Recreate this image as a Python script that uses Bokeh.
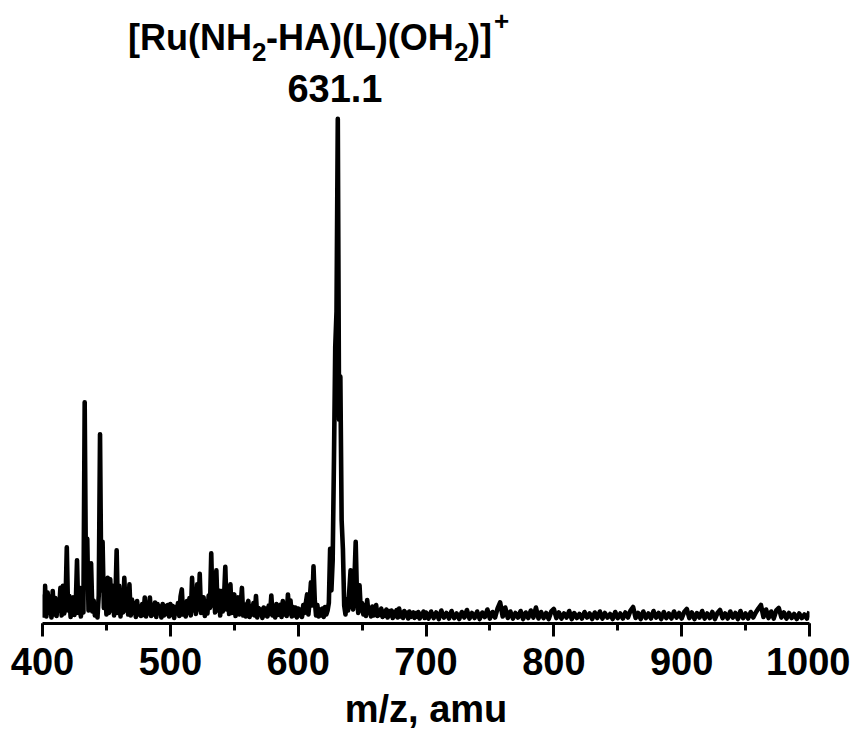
from bokeh.plotting import figure
from bokeh.models import Range1d, SingleIntervalTicker
from bokeh.core.properties import value
from bokeh.embed import file_html
from bokeh.resources import INLINE

# ---------------- data ----------------
# m/z grid, 1 amu steps 400-700, 2 amu steps 702-1000
mz_a = list(range(400, 701))
intensity_a = [
    5.2, 1.0, 6.9, 0.8, 5.6, 1.5, 4.8, 0.6, 5.9, 1.2,      # 400
    4.5, 0.9, 4.2, 2.0, 6.5, 1.0, 6.9, 1.4, 3.5, 14.6,     # 410
    2.0, 4.9, 0.7, 3.8, 4.6, 1.1, 3.0, 12.0, 1.5, 6.5,     # 420
    0.8, 3.3, 1.6, 43.5, 8.0, 16.3, 2.0, 5.5, 11.4, 1.8,   # 430
    4.0, 1.0, 3.3, 0.6, 5.0, 37.1, 6.0, 15.7, 2.5, 8.0,    # 440
    1.2, 8.5, 1.5, 8.2, 2.0, 6.9, 1.0, 4.0, 14.0, 1.5,     # 450
    6.9, 0.8, 5.0, 1.6, 8.5, 2.0, 6.0, 1.2, 7.2, 1.0,      # 460
    4.2, 1.5, 3.5, 0.7, 3.9, 1.2, 2.8, 0.9, 3.3, 1.1,      # 470
    4.6, 0.8, 3.2, 1.4, 4.6, 0.9, 3.0, 1.2, 3.6, 0.7,      # 480
    3.3, 1.5, 2.8, 0.6, 3.3, 1.0, 2.9, 1.3, 3.1, 0.8,      # 490
    3.3, 1.1, 2.9, 0.5, 2.7, 1.4, 3.5, 0.9, 4.8, 6.2,      # 500
    1.2, 3.6, 0.8, 3.9, 1.5, 4.5, 1.0, 8.5, 2.0, 5.5,      # 510
    1.3, 7.2, 2.2, 9.3, 1.5, 4.0, 4.6, 0.9, 3.8, 1.4,      # 520
    5.0, 2.5, 13.4, 3.0, 6.5, 1.6, 10.0, 2.0, 6.0, 1.0,    # 530
    5.9, 1.8, 4.5, 10.7, 2.2, 6.0, 1.3, 7.2, 1.5, 4.2,     # 540
    5.2, 0.9, 3.5, 4.6, 1.2, 3.0, 6.5, 1.0, 3.2, 0.8,      # 550
    3.0, 3.9, 0.7, 2.8, 1.2, 3.5, 1.0, 4.9, 0.6, 2.5,      # 560
    1.2, 2.2, 0.5, 2.6, 1.0, 2.4, 0.8, 3.0, 1.3, 5.0,      # 570
    1.0, 2.8, 0.6, 3.3, 1.1, 2.6, 3.1, 0.7, 3.9, 1.2,      # 580
    3.0, 0.9, 5.2, 1.4, 4.0, 0.8, 2.7, 1.0, 2.6, 0.6,      # 590
    2.4, 1.0, 2.2, 0.7, 3.1, 1.5, 3.5, 5.2, 1.2, 4.0,      # 600
    7.6, 3.0, 10.8, 4.0, 1.0, 3.1, 0.8, 2.2, 1.0, 2.4,     # 610
    0.7, 2.7, 1.2, 2.0, 3.5, 14.3, 6.0, 12.0, 32.0, 54.5,  # 620
    61.6, 100.0, 40.0, 48.6, 20.0, 14.3, 3.0, 1.2, 4.3, 2.0,  # 630
    6.0, 10.0, 3.0, 2.2, 8.0, 15.7, 5.0, 1.5, 7.0, 2.0,    # 640
    3.5, 1.2, 3.0, 0.9, 4.1, 1.5, 2.5, 0.8, 2.8, 1.0,      # 650
    2.2, 3.1, 0.9, 2.0, 1.1, 2.4, 0.7, 1.8, 1.0, 2.2,      # 660
    0.6, 1.9, 1.0, 2.0, 0.5, 1.7, 0.9, 2.1, 0.6, 2.4,      # 670
    0.8, 1.6, 0.5, 1.9, 1.0, 1.5, 0.4, 1.8, 0.7, 1.4,      # 680
    1.6, 0.5, 1.5, 0.8, 1.7, 0.4, 1.3, 0.9, 1.8, 0.5,      # 690
    1.6,                                                   # 700
]
mz_b = list(range(702, 1001, 2))
intensity_b = [
    0.4, 1.8, 0.5, 1.6, 0.3, 2.0, 0.6, 1.5, 0.4, 1.9,      # 702-720
    0.5, 1.4, 0.3, 1.7, 0.6, 2.1, 0.4, 1.5, 0.5, 1.8,      # 722-740
    0.3, 1.6, 0.7, 2.2, 0.4, 1.7, 0.6, 2.4, 3.6, 0.8,      # 742-760
    2.6, 0.5, 1.8, 0.4, 1.5, 0.6, 1.9, 0.3, 1.6, 0.5,      # 762-780
    2.0, 0.6, 2.6, 0.4, 1.7, 0.5, 1.5, 0.3, 1.8, 2.3,      # 782-800
    0.5, 1.6, 0.4, 1.4, 0.6, 1.9, 0.3, 1.5, 0.5, 1.3,      # 802-820
    0.4, 1.7, 0.6, 1.4, 0.3, 1.6, 0.5, 1.8, 0.4, 1.5,      # 822-840
    0.6, 1.3, 0.3, 1.7, 0.5, 1.4, 0.4, 1.6, 0.6, 2.0,      # 842-860
    2.7, 0.5, 1.5, 0.3, 1.8, 0.5, 1.4, 0.4, 1.9, 0.6,      # 862-880
    1.5, 0.3, 1.7, 0.5, 1.4, 0.4, 1.8, 0.6, 1.5, 0.4,      # 882-900
    1.7, 2.3, 0.5, 1.6, 0.3, 1.5, 0.6, 1.9, 0.4, 1.4,      # 902-920
    0.5, 1.7, 0.3, 1.5, 2.1, 0.5, 1.4, 0.4, 1.8, 0.6,      # 922-940
    1.5, 0.3, 1.9, 0.5, 1.4, 0.4, 1.7, 0.6, 1.6, 2.4,      # 942-960
    3.1, 0.7, 2.2, 0.5, 1.8, 0.4, 2.0, 2.5, 0.6, 1.6,      # 962-980
    0.4, 1.5, 0.5, 1.3, 0.3, 1.4, 0.5, 1.2, 0.4, 1.8,      # 982-1000
]
mz = mz_a + mz_b
intensity = intensity_a + intensity_b

x_ticks_interval = 100
x_label = "m/z, amu"
peak_mz = 631.1
peak_label = "631.1"
ion_parts = ["[Ru(NH", "2", "-HA)(L)(OH", "2", ")]", "+"]

FONT = "Liberation Sans"

# ---------------- figure ----------------
p = figure(width=850, height=732, output_backend="svg", toolbar_location=None,
           x_range=Range1d(400, 1000), y_range=Range1d(-0.59, 121.96),
           y_axis_location=None,
           min_border_left=42, min_border_right=41,
           min_border_top=8, min_border_bottom=99)
p.outline_line_color = None
p.grid.visible = False
p.background_fill_color = "white"

p.line(mz, intensity, line_width=4.6, line_color="black", line_join="round")

ax = p.xaxis[0]
ax.ticker = SingleIntervalTicker(interval=x_ticks_interval, num_minor_ticks=2)
ax.axis_line_width = 3
ax.axis_line_color = "black"
ax.major_tick_line_width = 3
ax.minor_tick_line_width = 3
ax.major_tick_in = 0
ax.major_tick_out = 13
ax.minor_tick_in = 0
ax.minor_tick_out = 7
ax.major_label_text_font = FONT
ax.major_label_text_font_style = "bold"
ax.major_label_text_font_size = "38px"
ax.major_label_text_color = "black"
ax.major_label_standoff = 11
ax.axis_label = x_label
ax.axis_label_text_font = FONT
ax.axis_label_text_font_style = "bold"
ax.axis_label_text_font_size = "38px"
ax.axis_label_text_color = "black"
ax.axis_label_standoff = 10

# ---------------- annotation ----------------
common = dict(text_font=value(FONT), text_font_style="bold", text_color="black",
              text_align="left", text_baseline="alphabetic")
big, small = "36px", "26px"
y_main, y_sub, y_sup, y_peak = 116.2, 113.3, 119.5, 106.0
p.text(x=[peak_mz], y=[y_main], text=[ion_parts[0]], x_offset=-210,
       text_font_size=big, **common)
p.text(x=[peak_mz], y=[y_sub], text=[ion_parts[1]], x_offset=-86,
       text_font_size=small, **common)
p.text(x=[peak_mz], y=[y_main], text=[ion_parts[2]], x_offset=-72,
       text_font_size=big, **common)
p.text(x=[peak_mz], y=[y_sub], text=[ion_parts[3]], x_offset=116,
       text_font_size=small, **common)
p.text(x=[peak_mz], y=[y_main], text=[ion_parts[4]], x_offset=130,
       text_font_size=big, **common)
p.text(x=[peak_mz], y=[y_sup], text=[ion_parts[5]], x_offset=156,
       text_font_size=small, **common)
p.text(x=[peak_mz], y=[y_peak], text=[peak_label], x_offset=-3,
       text_font_size="38px", text_font=value(FONT), text_font_style="bold",
       text_color="black", text_align="center", text_baseline="alphabetic")

open("out.html", "w").write(file_html(p, INLINE))
